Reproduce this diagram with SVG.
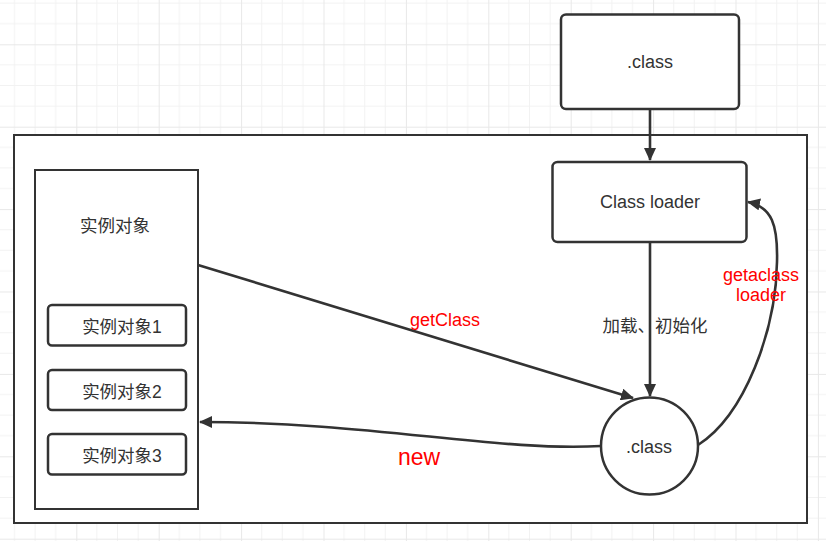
<svg xmlns="http://www.w3.org/2000/svg" width="826" height="541" viewBox="0 0 826 541">
<defs>
<pattern id="grid" patternUnits="userSpaceOnUse" x="-6.1" y="-38.1" width="82.4" height="82.4">
<path d="M20.6 0V82.4M41.2 0V82.4M61.8 0V82.4M0 20.6H82.4M0 41.2H82.4M0 61.8H82.4" stroke="#f2f2f2" stroke-width="1" fill="none"/>
<path d="M0.5 0V82.4M0 0.5H82.4" stroke="#e8e8e8" stroke-width="1" fill="none"/>
</pattern>
<marker id="arr" markerWidth="13" markerHeight="12" refX="12" refY="6" orient="auto" markerUnits="userSpaceOnUse">
<path d="M0 0L13 6L0 12Z" fill="#333"/>
</marker>
<style>
.box{fill:#fff;stroke:#333;stroke-width:2.5}
.t{font-family:"Liberation Sans","Noto Sans CJK SC",sans-serif;font-size:18px;fill:#333;text-anchor:middle;dominant-baseline:central}
.zh{font-size:17.5px}
.r{fill:#ff0000}
.c{fill:none;stroke:#333;stroke-width:2.6}
</style>
</defs>
<rect width="826" height="541" fill="#fff"/>
<rect width="826" height="541" fill="url(#grid)"/>
<g id="container"><rect x="14" y="135" width="793" height="388" fill="#fff" stroke="#333" stroke-width="2"/></g>
<g id="instances">
<rect x="35" y="170" width="163" height="339" fill="#fff" stroke="#333" stroke-width="2"/>
<text class="t zh" x="115" y="226">实例对象</text>
</g>
<g id="inst1"><rect class="box" x="48" y="305" width="138" height="40.5" rx="4"/><text class="t zh" x="122" y="327">实例对象1</text></g>
<g id="inst2"><rect class="box" x="48" y="370" width="138" height="40" rx="4"/><text class="t zh" x="122" y="392">实例对象2</text></g>
<g id="inst3"><rect class="box" x="48" y="434" width="138" height="40.5" rx="4"/><text class="t zh" x="122" y="456">实例对象3</text></g>
<g id="classfile"><rect class="box" x="561" y="14.5" width="178" height="94.5" rx="5"/><text class="t" x="650" y="62">.class</text></g>
<g id="classloader"><rect class="box" x="552.5" y="162" width="194" height="80" rx="5"/><text class="t" x="650" y="202">Class loader</text></g>
<g id="classobj"><circle cx="649.5" cy="446" r="48.5" fill="#fff" stroke="#333" stroke-width="2.5"/><text class="t" x="649" y="447">.class</text></g>
<g id="connectors">
<path class="c" d="M650 109V160" marker-end="url(#arr)"/>
<path class="c" d="M650 242V396" marker-end="url(#arr)"/>
<path class="c" d="M198 265L633 398" marker-end="url(#arr)"/>
<path class="c" d="M601 446C500 452 370 422 200 422" marker-end="url(#arr)"/>
<path class="c" d="M698 445C745 415 776 330 777 262C778 225 772 207 748 202" marker-end="url(#arr)"/>
<text class="t zh" x="655" y="326">加载、初始化</text>
<text class="t r" x="445" y="320">getClass</text>
<text class="t r" x="419" y="457" style="font-size:23px">new</text>
<text class="t r" x="761" y="275">getaclass</text>
<text class="t r" x="761" y="295">loader</text>
</g>
</svg>
